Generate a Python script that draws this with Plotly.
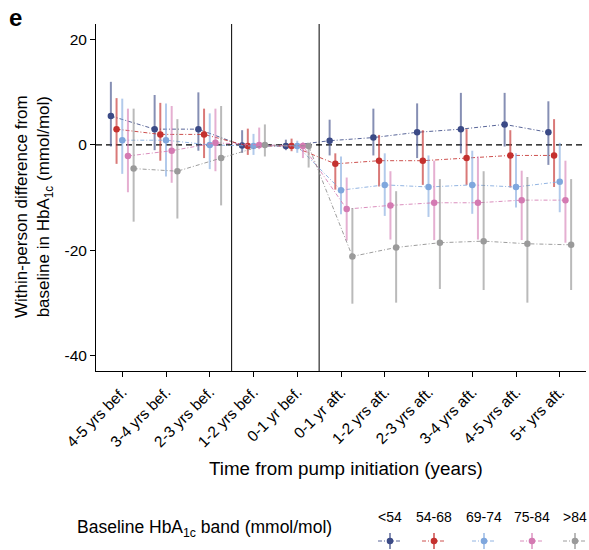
import plotly.graph_objects as go

categories = ["4-5 yrs bef.", "3-4 yrs bef.", "2-3 yrs bef.", "1-2 yrs bef.", "0-1 yr bef.",
              "0-1 yr aft.", "1-2 yrs aft.", "2-3 yrs aft.", "3-4 yrs aft.", "4-5 yrs aft.", "5+ yrs aft."]

bands = ["<54", "54-68", "69-74", "75-84", ">84"]

# point estimates (mmol/mol)
est_lt54 = [5.5, 3.0, 3.0, -0.1, -0.2, 0.8, 1.4, 2.4, 3.0, 3.9, 2.4]
est_54_68 = [3.0, 2.0, 2.0, -0.2, -0.2, -3.6, -3.0, -3.0, -2.5, -2.0, -2.0]
est_69_74 = [0.9, 0.9, 0.0, -0.2, -0.2, -8.6, -7.6, -8.0, -7.6, -8.0, -7.0]
est_75_84 = [-2.1, -1.1, 0.4, 0.0, -0.2, -12.2, -11.5, -11.0, -11.0, -10.5, -10.5]
est_gt84 = [-4.5, -5.0, -2.5, 0.0, -0.2, -21.2, -19.5, -18.6, -18.3, -18.8, -19.0]

# upper confidence limits
hi_lt54 = [12.0, 9.5, 10.0, 2.8, 1.0, 4.8, 6.9, 7.9, 9.9, 9.9, 8.3]
hi_54_68 = [8.9, 8.0, 6.9, 3.1, 1.2, -1.6, 1.9, 2.8, 3.0, 2.8, 4.9]
hi_69_74 = [8.8, 7.9, 6.0, 2.1, 0.8, -2.2, -1.6, -2.0, -1.1, -1.6, 0.4]
hi_75_84 = [6.9, 7.4, 6.9, 3.3, 0.5, -6.2, -5.0, -3.0, -2.2, -4.9, -3.0]
hi_gt84 = [6.9, 4.9, 7.4, 3.9, 0.3, -12.0, -8.8, -6.5, -5.0, -6.1, -6.5]

# lower confidence limits
lo_lt54 = [-0.3, -1.0, -1.1, -1.5, -1.0, -2.0, -2.0, -2.5, -1.6, -0.3, -3.8]
lo_54_68 = [-3.6, -3.0, -2.5, -1.9, -1.2, -8.5, -7.9, -7.6, -7.6, -8.1, -8.0]
lo_69_74 = [-5.5, -6.0, -4.6, -1.9, -1.5, -13.2, -13.5, -13.7, -13.1, -11.9, -12.8]
lo_75_84 = [-9.0, -7.2, -5.0, -0.8, -2.5, -18.2, -18.0, -18.1, -18.0, -18.1, -18.6]
lo_gt84 = [-14.6, -14.0, -11.5, -2.2, -4.3, -30.2, -30.0, -27.4, -27.6, -30.0, -27.6]

y_tick_vals = [-40, -20, 0, 20]
y_tick_text = ["-40", "-20", "0", "20"]

colors = ["#3B4A86", "#C4312F", "#7FA7DD", "#D47AB2", "#9A9A9A"]
bar_colors = ["rgba(59,74,134,0.62)", "rgba(196,49,47,0.65)", "rgba(127,167,221,0.6)",
              "rgba(212,122,178,0.6)", "rgba(140,140,140,0.6)"]
line_colors = ["rgba(59,74,134,0.85)", "rgba(196,49,47,0.85)", "rgba(127,167,221,0.85)",
               "rgba(212,122,178,0.85)", "rgba(140,140,140,0.85)"]

ests = [est_lt54, est_54_68, est_69_74, est_75_84, est_gt84]
his = [hi_lt54, hi_54_68, hi_69_74, hi_75_84, hi_gt84]
los = [lo_lt54, lo_54_68, lo_69_74, lo_75_84, lo_gt84]

FONT = "Liberation Sans, Arial, Helvetica, sans-serif"
DASHDOT = "4px,2px,1px,2px"
dodge = 0.13

fig = go.Figure()
n = len(categories)
for g, band in enumerate(bands):
    xs = [i + (g - 2) * dodge for i in range(n)]
    e = ests[g]
    fig.add_trace(go.Scatter(
        x=xs, y=e, mode="lines+markers", name=band, showlegend=False,
        line=dict(color=line_colors[g], width=1, dash=DASHDOT),
        marker=dict(color=colors[g], size=6.5),
        error_y=dict(type="data", symmetric=False,
                     array=[h - v for h, v in zip(his[g], e)],
                     arrayminus=[v - l for v, l in zip(e, los[g])],
                     color=bar_colors[g], thickness=2, width=0),
    ))

# reference lines
fig.add_shape(type="line", xref="paper", yref="y", x0=0, x1=1, y0=0, y1=0,
              line=dict(color="black", width=1.2, dash="6px,4px"), layer="below")
for xv in [2.5, 4.5]:
    fig.add_shape(type="line", xref="x", yref="paper", x0=xv, x1=xv, y0=0, y1=1,
                  line=dict(color="black", width=1), layer="below")

# layout geometry (pixels)
W, H = 589, 550
ml, mr, mt, mb = 96, 3, 24, 179
pw, ph = W - ml - mr, H - mt - mb

def px(xp):
    return (xp - ml) / pw

def py(yp):
    return (H - mb - yp) / ph

annotations = [
    dict(text="<b>e</b>", x=px(7), y=py(17), xref="paper", yref="paper",
         xanchor="left", yanchor="middle", showarrow=False,
         font=dict(size=24, family=FONT, color="black")),
    dict(text="Time from pump initiation (years)", x=px(346), y=py(468),
         xref="paper", yref="paper", xanchor="center", yanchor="middle",
         showarrow=False, font=dict(size=18.8, family=FONT, color="black")),
    dict(text="Within-person difference from<br>baseline in HbA<sub>1c</sub> (mmol/mol)",
         x=px(34), y=py(207), xref="paper", yref="paper", xanchor="center",
         yanchor="middle", textangle=-90, showarrow=False,
         font=dict(size=17, family=FONT, color="black")),
    dict(text="Baseline HbA<sub>1c</sub> band (mmol/mol)", x=px(75), y=py(528),
         xref="paper", yref="paper", xanchor="left", yanchor="middle",
         showarrow=False, font=dict(size=17.5, family=FONT, color="black")),
]

# custom legend
key_x = [390, 434, 484, 532, 575]
key_y = 541
for g, band in enumerate(bands):
    cx = key_x[g]
    annotations.append(dict(text=band, x=px(cx), y=py(517), xref="paper", yref="paper",
                            xanchor="center", yanchor="middle", showarrow=False,
                            font=dict(size=14, family=FONT, color="black")))
    fig.add_shape(type="line", xref="paper", yref="paper",
                  x0=px(cx - 12), x1=px(cx + 12), y0=py(key_y), y1=py(key_y),
                  line=dict(color=line_colors[g], width=1, dash=DASHDOT))
    fig.add_shape(type="line", xref="paper", yref="paper",
                  x0=px(cx), x1=px(cx), y0=py(key_y - 8), y1=py(key_y + 8),
                  line=dict(color=bar_colors[g], width=2))
    fig.add_shape(type="circle", xref="paper", yref="paper",
                  x0=px(cx - 3.3), x1=px(cx + 3.3), y0=py(key_y + 3.3), y1=py(key_y - 3.3),
                  fillcolor=colors[g], line=dict(width=0))

fig.update_layout(
    width=W, height=H,
    margin=dict(l=ml, r=mr, t=mt, b=mb),
    paper_bgcolor="white", plot_bgcolor="white",
    font=dict(family=FONT, color="black"),
    annotations=annotations,
    xaxis=dict(range=[-0.6, 10.6], tickvals=list(range(n)), ticktext=categories,
               tickangle=-45, showline=True, linecolor="black", linewidth=1,
               ticks="outside", ticklen=5, tickcolor="black", tickwidth=1,
               showgrid=False, zeroline=False, tickfont=dict(size=15.5, family=FONT, color="black")),
    yaxis=dict(range=[-43, 23], tickvals=y_tick_vals, ticktext=y_tick_text,
               showline=True, linecolor="black", linewidth=1,
               ticks="outside", ticklen=5, tickcolor="black", tickwidth=1,
               showgrid=False, zeroline=False, tickfont=dict(size=15.5, family=FONT, color="black")),
)

fig.write_html("out.html", config={"displayModeBar": False},
               post_script="document.body.style.margin='0';document.body.style.overflow='hidden';")
